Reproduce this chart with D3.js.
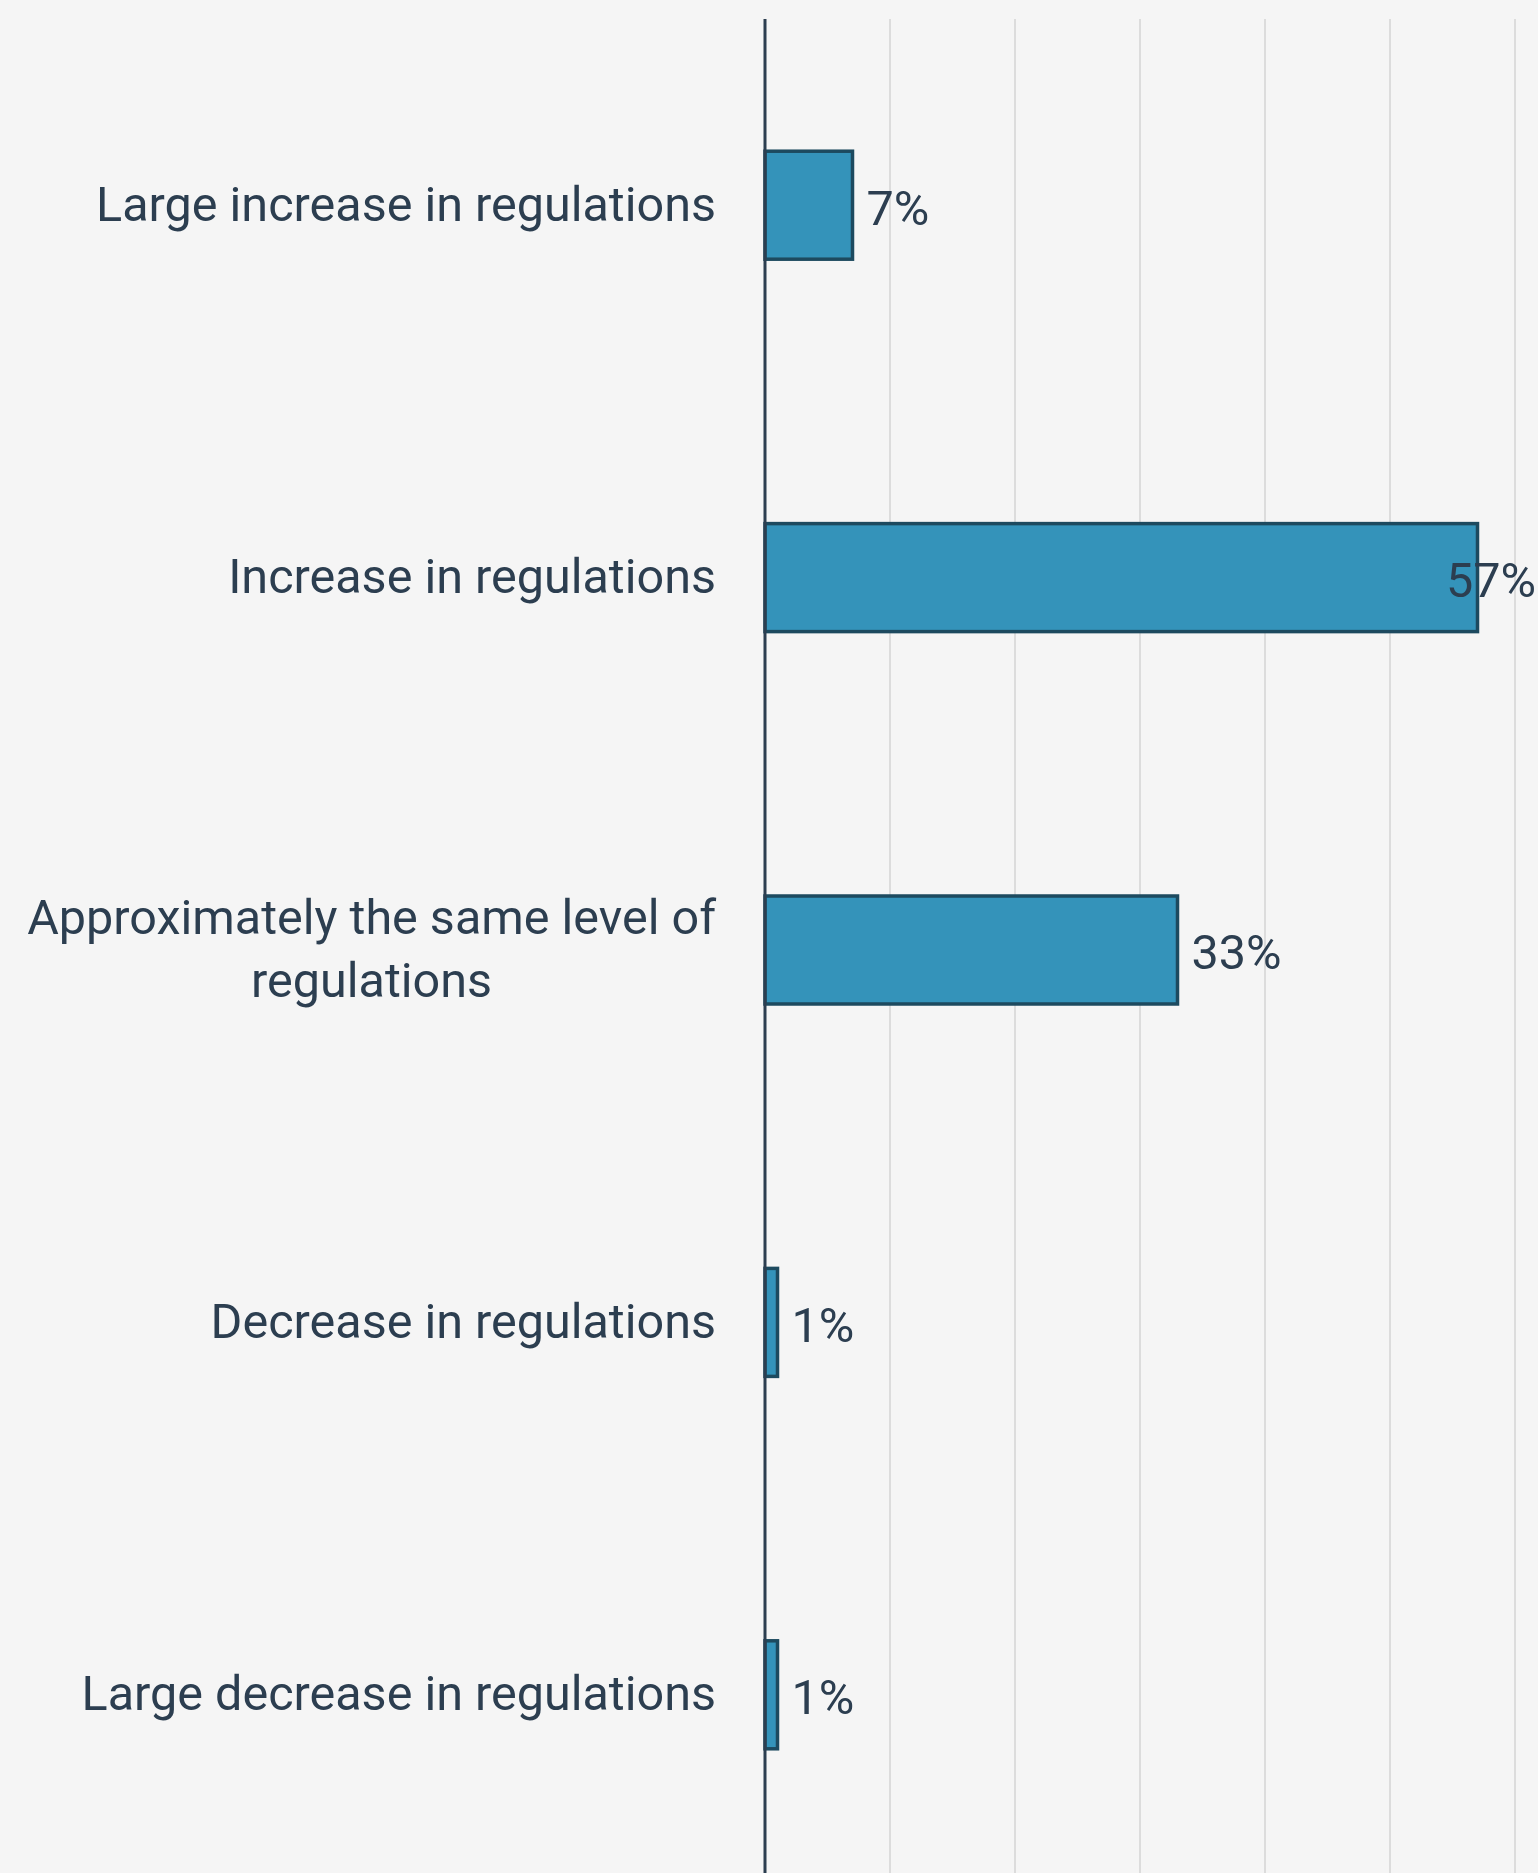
<!DOCTYPE html>
<html>
<head>
<meta charset="utf-8">
<script src="https://cdn.jsdelivr.net/npm/d3@7"></script>
<style>
  html, body { margin: 0; padding: 0; background: #f5f5f5; }
  svg { display: block; }
</style>
</head>
<body>
<script>
const categories = [
  "Large increase in regulations",
  "Increase in regulations",
  "Approximately the same level of regulations",
  "Decrease in regulations",
  "Large decrease in regulations"
];
const categoryLines = [
  ["Large increase in regulations"],
  ["Increase in regulations"],
  ["Approximately the same level of", "regulations"],
  ["Decrease in regulations"],
  ["Large decrease in regulations"]
];
const values = [7, 57, 33, 1, 1];
const gridTicks = [10, 20, 30, 40, 50, 60];

const W = 1538, H = 1873;
const textColor = "#2c3e50";
const fontFamily = "Roboto, 'Noto Sans', sans-serif";

const svg = d3.select("body").append("svg")
  .attr("width", W).attr("height", H)
  .style("background", "#f5f5f5");

const x = d3.scaleLinear().domain([0, 60]).range([765, 1515]);
const y = d3.scaleBand().domain(categories).range([19, 1881])
  .paddingInner(0.71).paddingOuter(0.355);

// gridlines
svg.append("g").selectAll("line").data(gridTicks).join("line")
  .attr("x1", d => x(d)).attr("x2", d => x(d))
  .attr("y1", 19).attr("y2", H)
  .attr("stroke", "#dcdcdc").attr("stroke-width", 2);

// bars
svg.append("g").selectAll("rect").data(values).join("rect")
  .attr("x", x(0))
  .attr("y", (d, i) => y(categories[i]))
  .attr("width", d => x(d) - x(0))
  .attr("height", y.bandwidth())
  .attr("fill", "#3493ba")
  .attr("stroke", "#1d4a5f")
  .attr("stroke-width", 3.5);

// axis line
svg.append("line")
  .attr("x1", x(0)).attr("x2", x(0))
  .attr("y1", 19).attr("y2", H)
  .attr("stroke", textColor).attr("stroke-width", 3);

// category labels
const labelRight = 716;
categories.forEach((c, i) => {
  const lines = categoryLines[i];
  const g = svg.append("g");
  const cy = y(c) + y.bandwidth() / 2;
  const lh = 63;
  const texts = lines.map((ln, k) => g.append("text")
    .attr("y", cy + (k - (lines.length - 1) / 2) * lh)
    .attr("dy", "0.32em")
    .attr("font-family", fontFamily)
    .attr("font-size", 48.5)
    .attr("fill", textColor)
    .text(ln));
  const widths = texts.map(t => t.node().getComputedTextLength());
  const maxW = d3.max(widths);
  texts.forEach(t => t.attr("text-anchor", "middle").attr("x", labelRight - maxW / 2));
});

// value labels
values.forEach((v, i) => {
  const t = svg.append("text")
    .attr("y", y(categories[i]) + y.bandwidth() / 2)
    .attr("dy", "0.4em")
    .attr("font-family", fontFamily)
    .attr("font-size", 48.5)
    .attr("fill", textColor)
    .text(v + "%");
  const w = t.node().getComputedTextLength();
  let px = x(v) + 14;
  if (px + w > W - 2) px = W - 2 - w;
  t.attr("x", px);
});
</script>
</body>
</html>
